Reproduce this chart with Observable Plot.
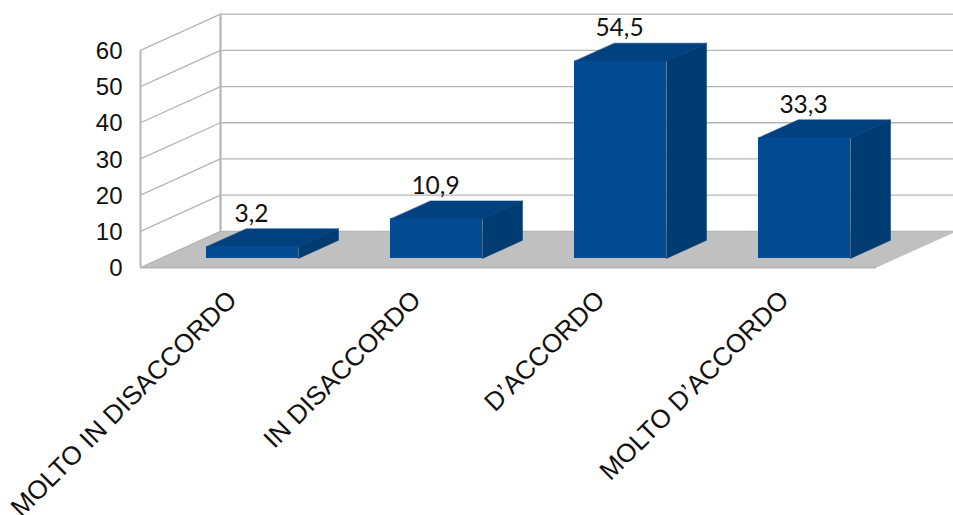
<!DOCTYPE html>
<html>
<head>
<meta charset="utf-8">
<script src="https://cdn.jsdelivr.net/npm/d3@7"></script>
<script src="https://cdn.jsdelivr.net/npm/@observablehq/plot@0.6"></script>
<style>
html,body{margin:0;padding:0;background:#fff;overflow:hidden}
svg{display:block}
</style>
</head>
<body>
<div id="chart"></div>
<script>
const categories = ["MOLTO IN DISACCORDO", "IN DISACCORDO", "D’ACCORDO", "MOLTO D’ACCORDO"];
const values = [3.2, 10.9, 54.5, 33.3];
const valueLabels = ["3,2", "10,9", "54,5", "33,3"];
const yTicks = [0, 10, 20, 30, 40, 50, 60];

// Oblique projection, in data units: one full step of depth
const depthX = 80 / 184;   // category units
const depthY = 10;         // value units
const px = (c, z) => c + z * depthX;
const py = (v, z) => v + z * depthY;

const gridColor = "#b5b5b5";
const floorColor = "#c0c0c0";
const frontColor = "#024a91";
const topColor = "#02417f";
const sideColor = "#003b72";
const n = categories.length;

// Bars occupy the middle half of a category in width and in depth
const bars = values.map((v, i) => ({
  i, v, x0: i + 0.25, x1: i + 0.75, label: valueLabels[i]
}));

const floor = [[0, 0], [n, 0], [n, 1], [0, 1]].map(([c, z]) => ({x: px(c, z), y: py(0, z)}));
const topFaces = bars.flatMap(b => [[b.x0, .25], [b.x1, .25], [b.x1, .75], [b.x0, .75]]
  .map(([c, z]) => ({id: b.i, x: px(c, z), y: py(b.v, z)})));
const sideFaces = bars.flatMap(b => [[.25, 0], [.75, 0], [.75, b.v], [.25, b.v]]
  .map(([z, v]) => ({id: b.i, x: px(b.x1, z), y: py(v, z)})));

const chart = Plot.plot({
  width: 953,
  height: 515,
  marginLeft: 140,
  marginRight: 0,
  marginTop: 13.7,
  marginBottom: 248,
  style: {background: "#fff", overflow: "hidden"},
  x: {type: "linear", domain: [0, 5], range: [140, 1060]},
  y: {type: "linear", domain: [0, 70], range: [267, 13.7]},
  marks: [
    // floor
    Plot.line(floor, {x: "x", y: "y", fill: floorColor, stroke: null, curve: "linear-closed"}),
    // back wall grid
    Plot.ruleY(yTicks, {y: d => py(d, 1), x1: px(0, 1), x2: px(n, 1), stroke: gridColor, strokeWidth: 1.3}),
    // side wall grid
    Plot.link(yTicks, {x1: px(0, 0), x2: px(0, 1), y1: d => py(d, 0), y2: d => py(d, 1), stroke: gridColor, strokeWidth: 1.3}),
    // wall verticals and front floor edge
    Plot.ruleX([px(0, 0)], {y1: py(0, 0), y2: py(60, 0), stroke: gridColor, strokeWidth: 2}),
    Plot.ruleX([px(0, 1)], {y1: py(0, 1), y2: py(60, 1), stroke: gridColor, strokeWidth: 2.2}),
    Plot.ruleY([0], {x1: px(0, 0), x2: px(n, 0), stroke: gridColor, strokeWidth: 2}),
    // bars
    Plot.line(topFaces, {x: "x", y: "y", z: "id", fill: topColor, stroke: topColor, strokeWidth: 0.5, curve: "linear-closed"}),
    Plot.line(sideFaces, {x: "x", y: "y", z: "id", fill: sideColor, stroke: sideColor, strokeWidth: 0.5, curve: "linear-closed"}),
    Plot.rect(bars, {
      x1: d => px(d.x0, .25), x2: d => px(d.x1, .25),
      y1: d => py(0, .25), y2: d => py(d.v, .25),
      fill: frontColor
    }),
    // value labels
    Plot.text(bars, {
      x: d => px(d.i + .5, .25), y: d => py(d.v, .75), text: "label",
      dx: -1, dy: -15, fontSize: 24.5, fontFamily: "Lato", fill: "#111"
    }),
    // axes
    Plot.axisY(yTicks, {
      anchor: "left", tickSize: 0, tickPadding: 18, dy: 1, label: null,
      fontSize: 24, fontFamily: "Liberation Sans", fill: "#111"
    }),
    Plot.axisX(categories.map((_, i) => i + .5), {
      anchor: "bottom", tickSize: 0, tickPadding: 28, label: null,
      tickRotate: -45, textAnchor: "end",
      tickFormat: d => categories[d - .5],
      fontSize: 26, fontFamily: "Liberation Sans", fill: "#111"
    })
  ]
});
document.getElementById("chart").append(chart);
</script>
</body>
</html>
